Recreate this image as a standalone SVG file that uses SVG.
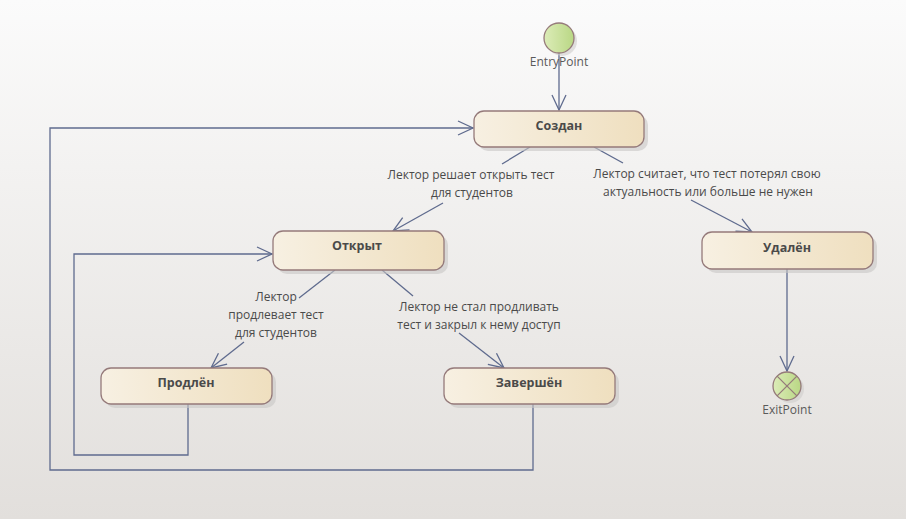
<svg xmlns="http://www.w3.org/2000/svg" width="906" height="519" viewBox="0 0 906 519">
<defs>
  <linearGradient id="bg" x1="0" y1="0" x2="0" y2="1">
    <stop offset="0" stop-color="#fbfbfb"/>
    <stop offset="1" stop-color="#e2dfdc"/>
  </linearGradient>
  <linearGradient id="box" x1="0" y1="0" x2="1" y2="0">
    <stop offset="0" stop-color="#f7f0e2"/>
    <stop offset="1" stop-color="#efdfbf"/>
  </linearGradient>
  <linearGradient id="green" x1="0" y1="0" x2="1" y2="0">
    <stop offset="0" stop-color="#dcecb8"/>
    <stop offset="1" stop-color="#b9d784"/>
  </linearGradient>
  <marker id="arr" viewBox="0 0 20 20" refX="16" refY="10" markerWidth="20" markerHeight="20" markerUnits="userSpaceOnUse" orient="auto">
    <path d="M1,3 L16,10 L1,17" fill="none" stroke="#5f6b8e" stroke-width="1.3"/>
  </marker>
</defs>
<style>
  .state rect.body { fill: url(#box); stroke: #957a7a; stroke-width: 1.3; }
  .state rect.shadow { fill: #c8c6c4; opacity: 0.6; }
  .state text { font-family: "Segoe UI", "Open Sans", "Liberation Sans", sans-serif; font-size: 12.5px; font-weight: bold; fill: #4a4a4a; text-anchor: middle; }
  .pt circle.body { fill: url(#green); stroke: #957a7a; stroke-width: 1.3; }
  .pt text { font-family: "Segoe UI", "Open Sans", "Liberation Sans", sans-serif; font-size: 12px; fill: #5a5a5a; text-anchor: middle; }
  .conn path { fill: none; stroke: #5f6b8e; stroke-width: 1.3; }
  .lbl { font-family: "Segoe UI", "Open Sans", "Liberation Sans", sans-serif; font-size: 12px; fill: #4a4a4a; text-anchor: middle; }
</style>
<rect x="0" y="0" width="906" height="519" fill="url(#bg)"/>

<g id="conns" class="conn">
  <path d="M559,53 L559,110" marker-end="url(#arr)"/>
  <path d="M530,147 L502,164"/>
  <path d="M443,203 L393,231" marker-end="url(#arr)"/>
  <path d="M594,147 L623,163"/>
  <path d="M691,200 L752,232" marker-end="url(#arr)"/>
  <path d="M335,270 L299,298"/>
  <path d="M244,342 L211,368" marker-end="url(#arr)"/>
  <path d="M382,270 L413,296"/>
  <path d="M459,333 L504,368" marker-end="url(#arr)"/>
  <path d="M188,404 L188,455 L74,455 L74,254 L272,254" marker-end="url(#arr)"/>
  <path d="M533,404 L533,470 L50,470 L50,128 L473,128" marker-end="url(#arr)"/>
  <path d="M787,269 L787,371" marker-end="url(#arr)"/>
</g>

<g id="labels">
  <text class="lbl" x="471" y="179">Лектор решает открыть тест</text>
  <text class="lbl" x="472" y="197">для студентов</text>
  <text class="lbl" x="707" y="178">Лектор считает, что тест потерял свою</text>
  <text class="lbl" x="708" y="196">актуальность или больше не нужен</text>
  <text class="lbl" x="276" y="301">Лектор</text>
  <text class="lbl" x="276" y="319">продлевает тест</text>
  <text class="lbl" x="276" y="337">для студентов</text>
  <text class="lbl" x="479" y="311">Лектор не стал продливать</text>
  <text class="lbl" x="479" y="329">тест и закрыл к нему доступ</text>
</g>

<g id="entry" class="pt">
  <circle cx="562" cy="41" r="15" fill="#cfcdcb" opacity="0.6"/>
  <circle class="body" cx="559" cy="38" r="15"/>
  <text x="559" y="66">EntryPoint</text>
</g>

<g id="sozdan" class="state">
  <rect class="shadow" x="478" y="115" width="170" height="36" rx="10"/>
  <rect class="body" x="474" y="111" width="170" height="36" rx="10"/>
  <text x="559" y="130">Создан</text>
</g>

<g id="otkryt" class="state">
  <rect class="shadow" x="277" y="235" width="171" height="39" rx="10"/>
  <rect class="body" x="273" y="231" width="171" height="39" rx="10"/>
  <text x="357" y="250">Открыт</text>
</g>

<g id="udalen" class="state">
  <rect class="shadow" x="706" y="236" width="171" height="37" rx="10"/>
  <rect class="body" x="702" y="232" width="171" height="37" rx="10"/>
  <text x="787" y="252">Удалён</text>
</g>

<g id="prodlen" class="state">
  <rect class="shadow" x="105" y="372" width="171" height="36" rx="10"/>
  <rect class="body" x="101" y="368" width="171" height="36" rx="10"/>
  <text x="186" y="387">Продлён</text>
</g>

<g id="zavershen" class="state">
  <rect class="shadow" x="448" y="372" width="171" height="36" rx="10"/>
  <rect class="body" x="444" y="368" width="171" height="36" rx="10"/>
  <text x="529" y="387">Завершён</text>
</g>

<g id="exit" class="pt">
  <circle cx="790" cy="389" r="14" fill="#cfcdcb" opacity="0.6"/>
  <circle class="body" cx="787" cy="386" r="14"/>
  <path d="M777.1,376.1 L796.9,395.9 M796.9,376.1 L777.1,395.9" stroke="#957a7a" stroke-width="1.3"/>
  <text x="787" y="414">ExitPoint</text>
</g>
</svg>
